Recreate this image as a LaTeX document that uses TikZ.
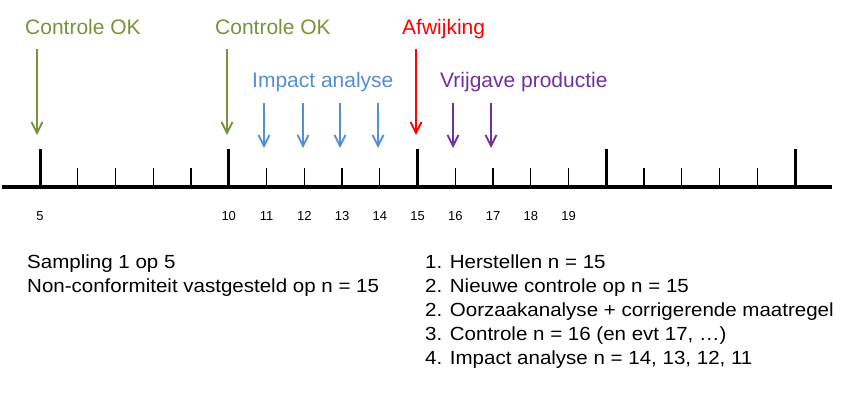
\documentclass[tikz,border=0pt]{standalone}
\usepackage{fontspec}
\setmainfont{Liberation Sans}
\newfontfamily\bodyfont[FakeStretch=1.08]{Liberation Sans}
\usetikzlibrary{arrows.meta}
\definecolor{okgreen}{HTML}{77933C}
\definecolor{impblue}{HTML}{558ED5}
\definecolor{devred}{HTML}{FF0000}
\definecolor{relpurple}{HTML}{7030A0}
\begin{document}
\begin{tikzpicture}[x=1pt,y=-1pt,
  lbl/.style={anchor=base west, inner sep=0pt, font=\fontsize{21}{25}\selectfont},
  num/.style={anchor=base, inner sep=0pt, font=\fontsize{13}{15}\selectfont},
  body/.style={anchor=base west, inner sep=0pt, font=\bodyfont\fontsize{19}{24}\selectfont},
  arr/.style={line width=1.8pt, -{Straight Barb[length=11pt,width=11pt,line width=1.8pt]}},
  axisline/.style={line width=3.5pt},
  majortick/.style={line width=3pt},
  minortick/.style={line width=1.4pt}
]
\useasboundingbox (0,0) rectangle (855,405);

% axis
\coordinate (axL) at (2,187);
\coordinate (axR) at (832,187);
\draw[axisline] (axL) -- (axR);

% ticks
\foreach \n in {5,...,25}{
  \pgfmathsetmacro{\xx}{40+37.75*(\n-5)}
  \pgfmathtruncatemacro{\m}{mod(\n,5)}
  \coordinate (b\n) at (\xx,186);
  \ifnum\m=0
    \coordinate (t\n) at (\xx,149);
    \draw[majortick] (b\n) -- (t\n);
  \else
    \coordinate (t\n) at (\xx,168);
    \draw[minortick] (b\n) -- (t\n);
  \fi
}

% tick numbers
\foreach \n in {5,10,11,12,13,14,15,16,17,18,19}{
  \pgfmathsetmacro{\xx}{40+37.75*(\n-5)}
  \node[num] (n\n) at (\xx,220) {\n};
}

% top labels
\node[lbl, text=okgreen] (ok1) at (25,34) {Controle OK};
\node[lbl, text=okgreen] (ok2) at (215,34) {Controle OK};
\node[lbl, text=devred] (afw) at (402,34) {Afwijking};
\node[lbl, text=impblue] (imp) at (252,87) {Impact analyse};
\node[lbl, text=relpurple] (vrij) at (440,87) {Vrijgave productie};

% arrows
\coordinate (g1s) at (37,49);  \coordinate (g1e) at (37,135);
\coordinate (g2s) at (227,49); \coordinate (g2e) at (227,135);
\coordinate (rs) at (416,49);  \coordinate (re) at (416,135);
\draw[arr, okgreen] (g1s) -- (g1e);
\draw[arr, okgreen] (g2s) -- (g2e);
\draw[arr, devred] (rs) -- (re);
\foreach \i/\xx in {1/264,2/303,3/340,4/378}{
  \coordinate (bs\i) at (\xx,103); \coordinate (be\i) at (\xx,148);
  \draw[arr, impblue] (bs\i) -- (be\i);
}
\foreach \i/\xx in {1/453,2/491}{
  \coordinate (ps\i) at (\xx,103); \coordinate (pe\i) at (\xx,148);
  \draw[arr, relpurple] (ps\i) -- (pe\i);
}

% bottom text
\node[body] (l1) at (27,268) {Sampling 1 op 5};
\node[body] (l2) at (27,292) {Non-conformiteit vastgesteld op n = 15};
\node[body] (r1) at (425,268) {1. Herstellen n = 15};
\node[body] (r2) at (425,292) {2. Nieuwe controle op n = 15};
\node[body] (r3) at (425,316) {2. Oorzaakanalyse + corrigerende maatregel};
\node[body] (r4) at (425,340) {3. Controle n = 16 (en evt 17, …)};
\node[body] (r5) at (425,364) {4. Impact analyse n = 14, 13, 12, 11};
\end{tikzpicture}
\end{document}
